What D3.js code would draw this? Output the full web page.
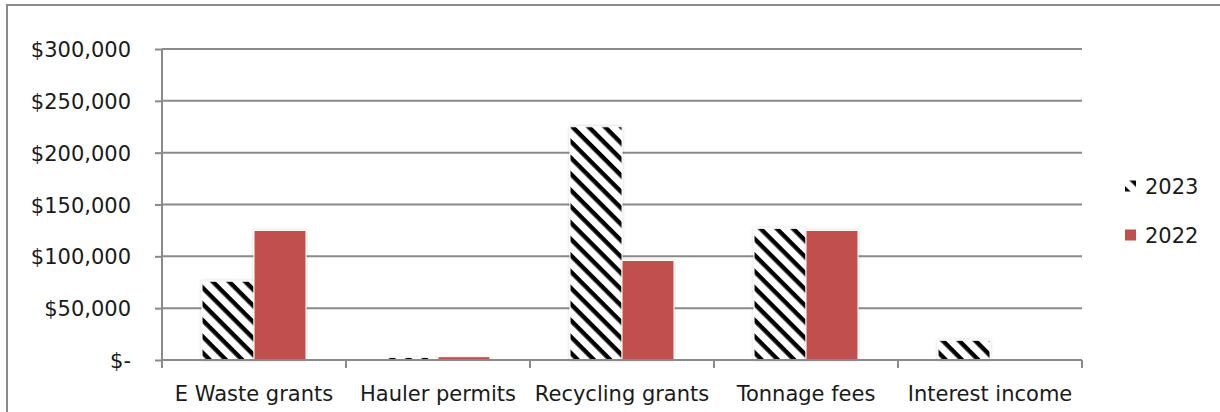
<!DOCTYPE html>
<html><head><meta charset="utf-8">
<script src="https://cdn.jsdelivr.net/npm/d3@7"></script>
<style>
html,body{margin:0;padding:0;background:#fff;}
text{font-family:"DejaVu Sans",sans-serif;fill:#1a1a1a;}
</style></head>
<body><svg id="c" width="1220" height="412"></svg>
<script>
const categories = ["E Waste grants","Hauler permits","Recycling grants","Tonnage fees","Interest income"];
const seriesNames = ["2023","2022"];
const values2023 = [76000, 2500, 225000, 127000, 19000];
const values2022 = [125000, 3200, 96000, 125000, 0];
const yTicks = [0,50000,100000,150000,200000,250000,300000];

(function(){
const svg = d3.select("#c");
const pL = 162, pR = 1082, pT = 49, pB = 360;
const grid = "#8a8a8a";
const fs = "21px";

// outer frame
svg.append("rect").attr("x",7).attr("y",5).attr("width",1240).attr("height",420)
  .attr("fill","none").attr("stroke",grid).attr("stroke-width",2);

const defs = svg.append("defs");
const pat = defs.append("pattern").attr("id","hatch").attr("patternUnits","userSpaceOnUse")
  .attr("width",11.5).attr("height",11.5).attr("patternTransform","rotate(45)");
pat.append("rect").attr("width",11.5).attr("height",11.5).attr("fill","#fff");
pat.append("rect").attr("x",0).attr("y",0).attr("width",11.5).attr("height",4.4).attr("fill","#000");
const f = defs.append("filter").attr("id","sh").attr("x","-20%").attr("y","-20%").attr("width","140%").attr("height","140%");
f.append("feDropShadow").attr("dx",0).attr("dy",0).attr("stdDeviation",1.6).attr("flood-color","#000").attr("flood-opacity",0.22);

const y = d3.scaleLinear().domain([0,300000]).range([pB,pT]);
const x0 = d3.scaleBand().domain(categories).range([pL,pR]).padding(0);
const x1 = d3.scaleBand().domain(seriesNames).range([0,x0.bandwidth()]).paddingInner(0).paddingOuter(0.77);

// gridlines
svg.append("g").selectAll("line").data(yTicks.filter(d=>d>0)).join("line")
  .attr("x1",pL).attr("x2",pR).attr("y1",d=>y(d)).attr("y2",d=>y(d))
  .attr("stroke",grid).attr("stroke-width",2);

// y axis
const yAxis = d3.axisLeft(y).tickValues(yTicks).tickSize(7).tickPadding(24)
  .tickFormat(d=> d===0 ? "$-" : "$" + d3.format(",")(d));
const gy = svg.append("g").attr("transform",`translate(${pL},0)`).call(yAxis);
gy.select(".domain").remove();
gy.selectAll(".tick line").attr("stroke",grid).attr("stroke-width",2);
gy.selectAll(".tick text").style("font-size",fs).attr("fill","#1a1a1a").attr("dy","0.36em");
svg.append("line").attr("x1",pL).attr("x2",pL).attr("y1",pT).attr("y2",pB+8)
  .attr("stroke",grid).attr("stroke-width",2);

// bars
const data = categories.map((c,i)=>({cat:c, vals:[{s:"2023",v:values2023[i]},{s:"2022",v:values2022[i]}]}));
const groups = svg.append("g").selectAll("g").data(data).join("g")
  .attr("transform",d=>`translate(${x0(d.cat)},0)`);
groups.selectAll("rect").data(d=>d.vals.filter(v=>v.v>0)).join("rect")
  .attr("x",d=>x1(d.s)).attr("width",x1.bandwidth())
  .attr("y",d=>y(d.v)).attr("height",d=>pB-y(d.v))
  .attr("fill",d=>d.s==="2023"?"url(#hatch)":"#C0504D")
  .attr("stroke","#fff").attr("stroke-width",1)
  .attr("filter","url(#sh)");

// x axis
const xAxis = d3.axisBottom(x0).tickSize(0).tickPadding(26);
const gx = svg.append("g").attr("transform",`translate(0,${pB})`).call(xAxis);
gx.select(".domain").remove();
gx.selectAll(".tick text").style("font-size",fs).attr("fill","#1a1a1a");
svg.append("line").attr("x1",pL).attr("x2",pR).attr("y1",pB).attr("y2",pB)
  .attr("stroke",grid).attr("stroke-width",2);
const bounds = categories.map(c=>x0(c)).concat([pR]).slice(1);
svg.append("g").selectAll("line").data(bounds).join("line")
  .attr("x1",d=>d).attr("x2",d=>d).attr("y1",pB).attr("y2",pB+8)
  .attr("stroke",grid).attr("stroke-width",2);

// legend
const leg = svg.append("g").selectAll("g").data(seriesNames).join("g")
  .attr("transform",(d,i)=>`translate(1125,${186+i*49})`);
leg.append("rect").attr("x",0).attr("y",-5.5).attr("width",11).attr("height",11)
  .attr("fill",d=>d==="2023"?"url(#hatch)":"#C0504D");
leg.append("text").attr("x",20).attr("y",0).attr("dy","0.36em").style("font-size",fs).text(d=>d);
})();
</script></body></html>
